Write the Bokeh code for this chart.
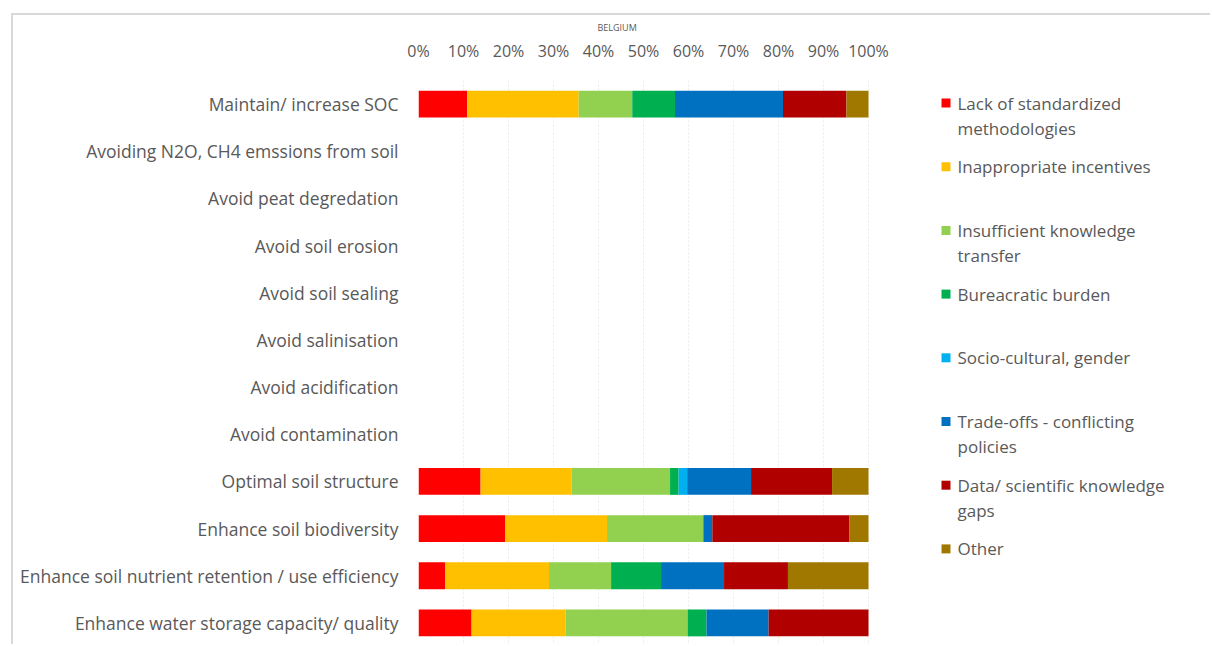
from bokeh.plotting import figure
from bokeh.models import (ColumnDataSource, Range1d, FixedTicker,
                          CustomJSTickFormatter)
from bokeh.core.properties import value
from bokeh.embed import file_html
from bokeh.resources import INLINE

# Soil-function categories, top to bottom
categories = [
    "Maintain/ increase SOC",
    "Avoiding N2O, CH4 emssions from soil",
    "Avoid peat degredation",
    "Avoid soil erosion",
    "Avoid soil sealing",
    "Avoid salinisation",
    "Avoid acidification",
    "Avoid contamination",
    "Optimal soil structure",
    "Enhance soil biodiversity",
    "Enhance soil nutrient retention / use efficiency",
    "Enhance water storage capacity/ quality",
]

# Share of each barrier (%) per category
lack_methods       = [10.8, 0, 0, 0, 0, 0, 0, 0, 13.8, 19.3,  5.9, 11.8]
incentives         = [24.8, 0, 0, 0, 0, 0, 0, 0, 20.2, 22.6, 23.1, 20.9]
knowledge_transfer = [11.9, 0, 0, 0, 0, 0, 0, 0, 21.9, 21.4, 13.8, 27.1]
bureaucratic       = [ 9.5, 0, 0, 0, 0, 0, 0, 0,  1.9,  0.0, 11.1,  4.2]
socio_cultural     = [ 0.0, 0, 0, 0, 0, 0, 0, 0,  1.9,  0.0,  0.0,  0.0]
trade_offs         = [24.0, 0, 0, 0, 0, 0, 0, 0, 14.2,  2.0, 14.0, 13.8]
data_gaps          = [14.1, 0, 0, 0, 0, 0, 0, 0, 18.0, 30.4, 14.2, 22.2]
other              = [ 4.9, 0, 0, 0, 0, 0, 0, 0,  8.1,  4.3, 17.9,  0.0]

x_ticks = list(range(0, 101, 10))

series_keys = ["lack", "incent", "transfer", "bureau", "socio", "trade", "data", "other"]
series_labels = [
    ["Lack of standardized", "methodologies"],
    ["Inappropriate incentives"],
    ["Insufficient knowledge", "transfer"],
    ["Bureacratic burden"],
    ["Socio-cultural, gender"],
    ["Trade-offs - conflicting", "policies"],
    ["Data/ scientific knowledge", "gaps"],
    ["Other"],
]
colors = ["#FF0000", "#FFC000", "#92D050", "#00B050", "#00B0F0", "#0070C0", "#B00000", "#A07800"]

positions = list(range(len(categories)))
source = ColumnDataSource(dict(
    pos=positions,
    lack=lack_methods, incent=incentives, transfer=knowledge_transfer,
    bureau=bureaucratic, socio=socio_cultural, trade=trade_offs,
    data=data_gaps, other=other,
))

FONT = "Open Sans"
GREY = "#595959"

# Page geometry (pixels): bars occupy 0-100 % over BAR_W px, legend sits to the right
PAGE_W, PAGE_H = 1212, 646
FRAME_L, FRAME_T = 418, 80
BAR_W = 450
FRAME_W = PAGE_W - FRAME_L
X_END = 100 * FRAME_W / BAR_W

# The chart sits inside a thin grey frame on its top and left sides
OFF_X, OFF_Y = 13, 15
p = figure(
    width=PAGE_W - OFF_X, height=PAGE_H - OFF_Y,
    y_range=Range1d(len(categories) - 0.5, -0.5),
    x_range=Range1d(0, X_END),
    x_axis_location="above",
    output_backend="svg", toolbar_location=None,
    min_border_left=FRAME_L - OFF_X, min_border_right=0,
    min_border_top=FRAME_T - OFF_Y, min_border_bottom=0,
    styles={"margin-left": "11px", "margin-top": "13px",
            "border-left": "2px solid #d9d9d9", "border-top": "2px solid #d9d9d9"},
)

renderers = p.hbar_stack(series_keys, y="pos", height=0.57, fill_color=colors,
                         line_color=None, source=source)

# Small chart title above the percentage scale
p.title.text = "BELGIUM"
p.title.align = "left"
p.title.offset = 179
p.title.text_font = FONT
p.title.text_font_size = "9px"
p.title.text_font_style = "normal"
p.title.text_color = GREY
p.title.standoff = 6

# Axes
p.xaxis.ticker = FixedTicker(ticks=x_ticks)
p.xaxis.formatter = CustomJSTickFormatter(code="return tick + '%'")
p.yaxis.ticker = FixedTicker(ticks=positions)
p.yaxis.major_label_overrides = {i: name for i, name in zip(positions, categories)}
p.axis.axis_line_color = None
p.axis.major_tick_line_color = None
p.axis.minor_tick_line_color = None
p.axis.major_label_text_font = FONT
p.axis.major_label_text_color = GREY
p.xaxis.major_label_text_font_size = "16px"
p.yaxis.major_label_text_font_size = "17.5px"
p.xaxis.major_label_standoff = 13
p.yaxis.major_label_standoff = 14

p.ygrid.grid_line_color = None
p.xgrid.grid_line_color = "#ebebeb"
p.xgrid.grid_line_dash = "2 2"
p.outline_line_color = None

# Legend, laid out in page pixels on its own ranges
p.extra_x_ranges["px"] = Range1d(FRAME_L, PAGE_W)
p.extra_y_ranges["px"] = Range1d(PAGE_H, FRAME_T)
LEG_SWATCH_X, LEG_TEXT_X = 945.5, 957
LEG_Y0, LEG_STEP, LEG_LINE = 102.5, 63.7, 25

sw_x, sw_y, sw_c = [], [], []
tx_x, tx_y, tx_t = [], [], []
for i, (lines, c) in enumerate(zip(series_labels, colors)):
    y0 = LEG_Y0 + i * LEG_STEP
    sw_x.append(LEG_SWATCH_X); sw_y.append(y0); sw_c.append(c)
    for j, line in enumerate(lines):
        tx_x.append(LEG_TEXT_X); tx_y.append(y0 + j * LEG_LINE); tx_t.append(line)

p.rect(x=sw_x, y=sw_y, width=9, height=9, width_units="screen", height_units="screen",
       fill_color=sw_c, line_color=None, x_range_name="px", y_range_name="px")
p.text(x=tx_x, y=tx_y, text=tx_t, text_font=value(FONT), text_font_size="17px",
       text_color=GREY, text_baseline="middle", text_align="left",
       x_range_name="px", y_range_name="px")

open("out.html", "w").write(file_html(p, INLINE))
